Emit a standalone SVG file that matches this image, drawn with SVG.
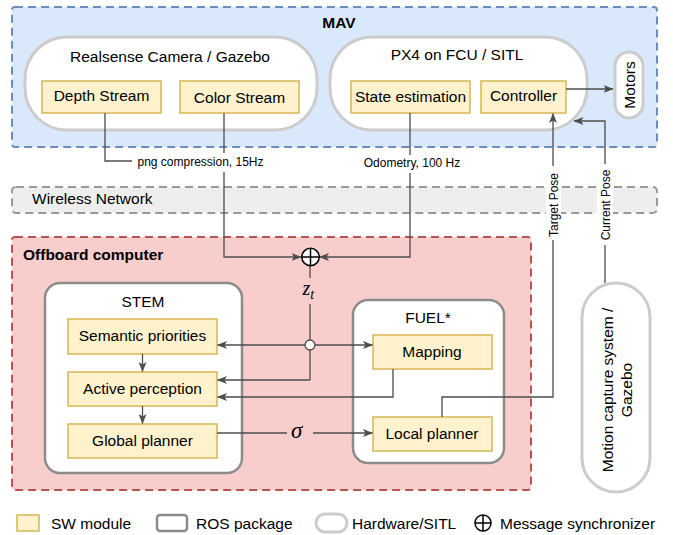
<svg xmlns="http://www.w3.org/2000/svg" width="673" height="535" viewBox="0 0 673 535">
  <style>
    text { font-family: "Liberation Sans", Arial, Helvetica, sans-serif; fill: #000; }
    .t { font-size: 15.5px; text-anchor: middle; }
    .b { font-size: 15.5px; font-weight: bold; }
    .s { font-size: 12px; text-anchor: middle; }
    .math { font-family: "Liberation Serif", "DejaVu Serif", serif; font-style: italic; }
    .sw { fill: #fff2cc; stroke: #d6b656; stroke-width: 1.5; }
    .ros { fill: #ffffff; stroke: #8c8c8c; stroke-width: 2.5; }
    .hw { fill: #ffffff; stroke: #cccccc; stroke-width: 3; }
    .edge { fill: none; stroke: #4d4d4d; stroke-width: 1.3; }
    .arr { marker-end: url(#head); }
    .lblbg { fill: #ffffff; stroke: none; }
    .sync { fill: #ffffff; stroke: #000; stroke-width: 1.5; }
  </style>
  <defs>
    <marker id="head" markerUnits="userSpaceOnUse" markerWidth="10" markerHeight="8" refX="9.5" refY="4" orient="auto">
      <path d="M0,0 L10,4 L0,8 L2.5,4 z" fill="#4d4d4d"/>
    </marker>
  </defs>

  <!-- containers -->
  <g id="mav">
    <rect x="12" y="7" width="645" height="140" rx="3" fill="#dae8fc" stroke="#6c8ebf" stroke-width="2" stroke-dasharray="8,5"/>
    <text class="b" x="339" y="28" text-anchor="middle">MAV</text>
  </g>
  <g id="wireless">
    <rect x="12" y="187" width="645" height="26" rx="4" fill="#eeeeee" stroke="#999999" stroke-width="2" stroke-dasharray="8,5"/>
    <text x="32" y="204" style="font-size:15.5px">Wireless Network</text>
  </g>
  <g id="offboard">
    <rect x="12" y="237" width="519" height="253" rx="3" fill="#f8cecc" stroke="#b85450" stroke-width="2" stroke-dasharray="8,5"/>
    <text class="b" x="23" y="260">Offboard computer</text>
  </g>

  <!-- hardware / SITL -->
  <g id="camera">
    <rect class="hw" x="25" y="37" width="292" height="93" rx="42"/>
    <text class="t" x="170" y="62">Realsense Camera / Gazebo</text>
  </g>
  <g id="px4">
    <rect class="hw" x="330" y="37" width="257" height="93" rx="42"/>
    <text class="t" x="457" y="60">PX4 on FCU / SITL</text>
  </g>
  <g id="motors">
    <rect class="hw" x="615" y="52" width="28" height="66" rx="14"/>
    <text class="t" transform="translate(635 85) rotate(-90)">Motors</text>
  </g>
  <g id="mocap">
    <rect class="hw" x="582" y="283" width="68" height="209" rx="34"/>
    <text class="t" transform="translate(616 390) rotate(-90)"><tspan x="0" y="-3">Motion capture system /</tspan><tspan x="0" y="16">Gazebo</tspan></text>
  </g>

  <!-- ROS packages -->
  <g id="stem">
    <rect class="ros" x="45" y="283" width="197" height="190" rx="15"/>
    <text class="t" x="143" y="307">STEM</text>
  </g>
  <g id="fuel">
    <rect class="ros" x="353" y="300" width="151" height="163" rx="15"/>
    <text class="t" x="428" y="323">FUEL*</text>
  </g>

  <!-- SW modules -->
  <g id="depth-stream">
    <rect class="sw" x="42" y="81" width="119" height="32"/>
    <text class="t" x="101.5" y="101">Depth Stream</text>
  </g>
  <g id="color-stream">
    <rect class="sw" x="180" y="81" width="119" height="32"/>
    <text class="t" x="239.5" y="103">Color Stream</text>
  </g>
  <g id="state-estimation">
    <rect class="sw" x="351" y="81" width="119" height="32"/>
    <text class="t" x="410.5" y="102">State estimation</text>
  </g>
  <g id="controller">
    <rect class="sw" x="481" y="81" width="85" height="32"/>
    <text class="t" x="523.5" y="101">Controller</text>
  </g>
  <g id="semantic-priorities">
    <rect class="sw" x="68" y="319" width="149" height="35"/>
    <text class="t" x="142.5" y="340.5">Semantic priorities</text>
  </g>
  <g id="active-perception">
    <rect class="sw" x="68" y="372" width="149" height="34"/>
    <text class="t" x="142.5" y="393.5">Active perception</text>
  </g>
  <g id="global-planner">
    <rect class="sw" x="68" y="424" width="149" height="34"/>
    <text class="t" x="142.5" y="446">Global planner</text>
  </g>
  <g id="mapping">
    <rect class="sw" x="373" y="335" width="119" height="34"/>
    <text class="t" x="432" y="357">Mapping</text>
  </g>
  <g id="local-planner">
    <rect class="sw" x="373" y="417" width="119" height="34"/>
    <text class="t" x="432" y="438.5">Local planner</text>
  </g>

  <!-- connectors -->
  <g id="connectors">
    <path class="edge" d="M105,113 V161 H132"/>
    <path class="edge arr" d="M224,113 V257 H301"/>
    <path class="edge arr" d="M410,113 V257 H319.5"/>
    <path class="edge arr" d="M566,89 H613"/>
    <path class="edge arr" d="M442,417 V397 H553 V113.5"/>
    <path class="edge arr" d="M605,283 V121 H574"/>
    <path class="edge" d="M310,266 V278"/>
    <path class="edge" d="M310,304 V380"/>
    <path class="edge arr" d="M305,345 H217.5"/>
    <path class="edge arr" d="M315,345 H372.5"/>
    <path class="edge arr" d="M310,380 H217.5"/>
    <path class="edge arr" d="M393,369 V397 H217.5"/>
    <path class="edge arr" d="M142.5,354 V371.5"/>
    <path class="edge arr" d="M142.5,406 V423.5"/>
    <path class="edge" d="M217,433 H287"/>
    <path class="edge arr" d="M313,433 H372.5"/>
    <circle cx="310" cy="345" r="5" fill="#ffffff" stroke="#4d4d4d" stroke-width="1.3"/>
  </g>

  <!-- message synchronizer -->
  <g id="synchronizer">
    <circle class="sync" cx="310.5" cy="257" r="8.7"/>
    <path d="M301.8,257 H319.2 M310.5,248.3 V265.7" stroke="#000" stroke-width="1.5"/>
  </g>

  <!-- edge labels -->
  <g id="edge-labels">
    <rect class="lblbg" x="136" y="153" width="130" height="19"/>
    <text class="s" x="200.5" y="166">png compression, 15Hz</text>
    <rect class="lblbg" x="362" y="155" width="101" height="18"/>
    <text class="s" x="412" y="167">Odometry, 100 Hz</text>
    <rect class="lblbg" x="546" y="166" width="15" height="74"/>
    <text class="s" transform="translate(558 205) rotate(-90)">Target Pose</text>
    <rect class="lblbg" x="597" y="164" width="16" height="81"/>
    <text class="s" transform="translate(609.5 205) rotate(-90)">Current Pose</text>
    <text class="math" x="302.5" y="295" style="font-size:20px">z<tspan dy="3.5" style="font-size:14px">t</tspan></text>
    <text class="math" x="291" y="438" style="font-size:23px">σ</text>
  </g>

  <!-- legend -->
  <g id="legend">
    <rect class="sw" x="17" y="515" width="22" height="16"/>
    <text x="51" y="529" style="font-size:15.5px">SW module</text>
    <rect class="ros" x="157" y="515" width="30" height="16" rx="3"/>
    <text x="196" y="529" style="font-size:15.5px">ROS package</text>
    <rect class="hw" x="316" y="514" width="31" height="18" rx="9"/>
    <text x="352" y="529" style="font-size:15.5px">Hardware/SITL</text>
    <circle class="sync" cx="483" cy="523" r="8"/>
    <path d="M475,523 H491 M483,515 V531" stroke="#000" stroke-width="1.5"/>
    <text x="500" y="529" style="font-size:15.5px">Message synchronizer</text>
  </g>
</svg>
